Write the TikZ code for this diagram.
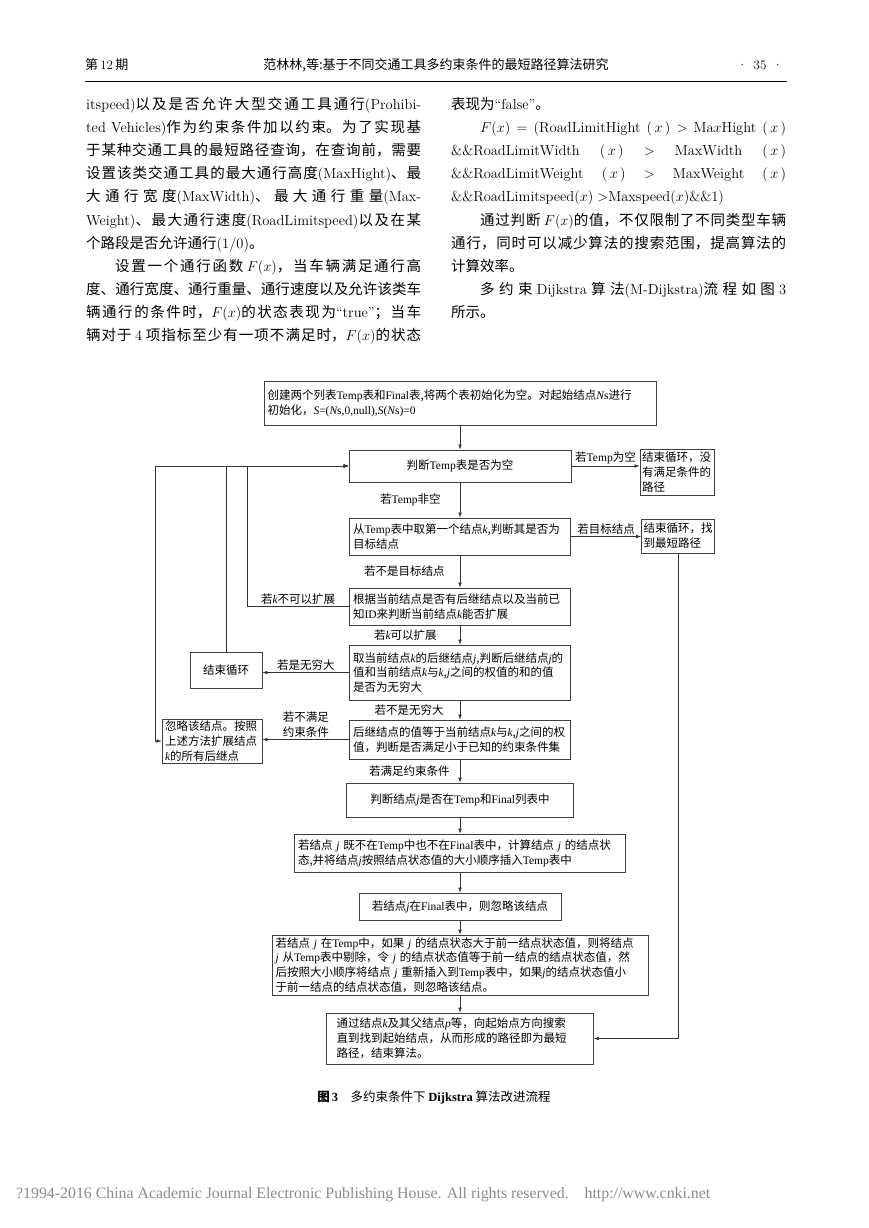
\documentclass[tikz,border=0pt]{standalone}
\usepackage[no-math]{fontspec}
\setmainfont{Noto Sans CJK SC}
\newfontfamily\tmfont{Liberation Serif}
\usepackage{graphicx}
\usetikzlibrary{arrows.meta}

% latin pieces
\newcommand\lmtext[1]{{\fontfamily{lmr}\selectfont #1}}
\newcommand\tmtext[1]{{\tmfont #1}}
\newcommand\tmit[1]{{\tmfont\itshape #1}}
% sizes
\newcommand\hdfont{\fontsize{13}{15}\selectfont}
\newcommand\bodyfont{\fontsize{14.5}{23.1}\selectfont}
\newcommand\fcfont{\fontsize{11.5}{14.8}\selectfont}
\newcommand\capfont{\fontsize{12.5}{14}\selectfont}
\newcommand\zhpar{\XeTeXlinebreaklocale "zh"\XeTeXlinebreakskip=0pt plus 8pt\relax
  \parindent=0pt\tolerance=10000\relax}

\begin{document}
\begin{tikzpicture}[x=1pt, y=-1pt,
    box/.style={
        draw=black!75,
        line width=0.8pt,
        inner xsep=3.5pt,
        inner ysep=0pt,
        align=left,
        font=\fcfont
    },
    lbl/.style={inner sep=1pt, align=center, font=\fcfont},
    arrow/.style={draw=black!80, line width=0.6pt, -{Latex[length=5pt,width=3.6pt]}},
    twoway/.style={draw=black!80, line width=0.6pt,
        {Latex[length=5pt,width=3.6pt]}-{Latex[length=5pt,width=3.6pt]}}
]
\useasboundingbox (0,0) rectangle (868,1228);
\fill[white] (0,0) rectangle (868,1228);

% running head
\node[anchor=base west, inner sep=0pt, font=\hdfont] (issue) at (85,70) {第\,\lmtext{12}\,期};
\node[anchor=base, inner sep=0pt, font=\hdfont] (title) at (436,70) {范林林,等:基于不同交通工具多约束条件的最短路径算法研究};
\node[anchor=base east, inner sep=0pt, font=\hdfont] (page) at (783,70) {\lmtext{·\enspace 35\enspace ·}};
\draw[line width=1pt] (85,82) -- (787,82);

% two columns of text
\node[anchor=base west, inner sep=0pt] (leftcol) at (86,109.5) {\begin{minipage}[t]{335pt}\bodyfont\zhpar\parfillskip=0pt
\lmtext{itspeed)}以及是否允许大型交通工具通行\lmtext{(Prohibi-}\linebreak
\lmtext{ted Vehicles)}作为约束条件加以约束。为了实现基\linebreak
于某种交通工具的最短路径查询，在查询前，需要\linebreak
设置该类交通工具的最大通行高度\lmtext{(MaxHight)}、最\linebreak
大通行宽度\lmtext{(MaxWidth)}、最大通行重量\lmtext{(Max-}\linebreak
\lmtext{Weight)}、最大通行速度\lmtext{(RoadLimitspeed)}以及在某\linebreak
个路段是否允许通行\lmtext{(1/0)}。\newline
\hspace*{2em}设置一个通行函数 $F(x)$，当车辆满足通行高\linebreak
度、通行宽度、通行重量、通行速度以及允许该类车\linebreak
辆通行的条件时，$F(x)$的状态表现为\lmtext{“true”}；当车\linebreak
辆对于 \lmtext{4} 项指标至少有一项不满足时，$F(x)$的状态
\end{minipage}};

\node[anchor=base west, inner sep=0pt] (rightcol) at (451,109.5) {\begin{minipage}[t]{335pt}\bodyfont\zhpar
表现为\lmtext{“false”}。\newline
\lmtext{\hspace*{2em}$F(x)=($RoadLimitHight $(\,x\,)$ $>$ Ma$x$Hight $(\,x\,)$}\linebreak
\lmtext{\&\&RoadLimitWidth $(\,x\,)$ $>$ MaxWidth $(\,x\,)$}\linebreak
\lmtext{\&\&RoadLimitWeight $(\,x\,)$ $>$ MaxWeight $(\,x\,)$}\linebreak
\lmtext{\&\&RoadLimitspeed$(x)>$Maxspeed$(x)$\&\&1)}\newline
\hspace*{2em}通过判断 $F(x)$的值，不仅限制了不同类型车辆\linebreak
通行，同时可以减少算法的搜索范围，提高算法的\linebreak
计算效率。\newline
\hspace*{2em}多约束 \lmtext{Dijkstra} 算法\lmtext{(M-Dijkstra)}流程如图 \lmtext{3}\linebreak
所示。
\end{minipage}};

% flow chart
\coordinate (bendK) at (247,466);
\coordinate (bendJ) at (155,466);

\node[box, text width=385pt, minimum height=44pt] (create) at (460,403)
    {创建两个列表\tmtext{Temp}表和\tmtext{Final}表,将两个表初始化为空。对起始结点\tmit{N}\tmtext{s}进行\\
     初始化，\tmit{S}\tmtext{=(}\tmit{N}\tmtext{s,0,null),}\tmit{S}\tmtext{(}\tmit{N}\tmtext{s)=0}};
\node[box, align=center, text width=215pt, minimum height=32pt] (judge) at (460,466) {判断\tmtext{Temp}表是否为空};
\node[box, inner xsep=2pt, text width=70pt, minimum height=46pt] (failend) at (677,472) {结束循环，没\\有满足条件的\\路径};
\node[box, text width=214pt, minimum height=37pt] (first) at (460,536.5)
    {从\tmtext{Temp}表中取第一个结点\tmit{k},判断其是否为\\目标结点};
\node[box, inner xsep=2pt, text width=69pt, minimum height=34pt] (found) at (678,536) {结束循环，找\\到最短路径};
\node[box, text width=214pt, minimum height=37pt] (expand) at (460,606.5)
    {根据当前结点是否有后继结点以及当前已\\知\tmtext{ID}来判断当前结点\tmit{k}能否扩展};
\node[box, text width=214pt, minimum height=55pt] (succ) at (460,672.5)
    {取当前结点\tmit{k}的后继结点\tmit{j},判断后继结点\tmit{j}的\\值和当前结点\tmit{k}与\tmit{k},\tmit{j}之间的权值的和的值\\是否为无穷大};
\node[box, align=center, text width=65pt, minimum height=36pt] (stop) at (226,670) {结束循环};
\node[box, text width=214pt, minimum height=39pt] (weight) at (460,739.5)
    {后继结点的值等于当前结点\tmit{k}与\tmit{k},\tmit{j}之间的权\\值，判断是否满足小于已知的约束条件集};
\node[box, inner xsep=3pt, text width=94pt, minimum height=44pt] (ignore) at (212,741)
    {忽略该结点。按照\\上述方法扩展结点\\\tmit{k}的所有后继点};
\node[box, align=center, text width=220pt, minimum height=34pt] (inlist) at (460,800)
    {判断结点\tmit{j}是否在\tmtext{Temp}和\tmtext{Final}列表中};
\node[box, text width=324pt, minimum height=38pt] (notin) at (460,853)
    {若结点~\tmit{j}~既不在\tmtext{Temp}中也不在\tmtext{Final}表中，计算结点~\tmit{j}~的结点状\\态,并将结点\tmit{j}按照结点状态值的大小顺序插入\tmtext{Temp}表中};
\node[box, align=center, text width=195pt, minimum height=27pt] (infinal) at (460,906.5)
    {若结点\tmit{j}在\tmtext{Final}表中，则忽略该结点};
\node[box, text width=369pt, minimum height=60pt] (intemp) at (460,965)
    {若结点~\tmit{j}~在\tmtext{Temp}中，如果~\tmit{j}~的结点状态大于前一结点状态值，则将结点\\
     \tmit{j}~从\tmtext{Temp}表中剔除，令~\tmit{j}~的结点状态值等于前一结点的结点状态值，然\\
     后按照大小顺序将结点~\tmit{j}~重新插入到\tmtext{Temp}表中，如果\tmit{j}的结点状态值小\\
     于前一结点的结点状态值，则忽略该结点。};
\node[box, inner xsep=10pt, text width=247pt, minimum height=51pt] (trace) at (460,1038.5)
    {通过结点\tmit{k}及其父结点\tmit{p}等，向起始点方向搜索\\直到找到起始结点，从而形成的路径即为最短\\路径，结束算法。};

\draw[arrow] (create) -- (judge);
\draw[arrow] (judge) -- (judge -| failend.west) node[lbl, midway, above=1pt] {若\tmtext{Temp}为空};
\draw[arrow] (judge) -- (first) node[lbl, midway, left=18pt] {若\tmtext{Temp}非空};
\draw[arrow] (first) -- (first -| found.west) node[lbl, midway, above=1pt] {若目标结点};
\draw[arrow] (found) |- (trace);
\draw[arrow] (first) -- (expand) node[lbl, midway, left=14pt] {若不是目标结点};
\draw[arrow] (expand) -| (bendK) node[lbl, pos=0.25, above=1pt] {若\tmit{k}不可以扩展} -- (judge);
\draw[arrow] (expand) -- (succ) node[lbl, midway, left=22pt] {若\tmit{k}可以扩展};
\draw[arrow] (succ) -- (succ -| stop.east) node[lbl, midway, above=1pt] {若是无穷大};
\draw[arrow] (stop) -- (stop |- judge) -- (judge);
\draw[arrow] (succ) -- (weight) node[lbl, midway, left=15pt] {若不是无穷大};
\draw[arrow] (weight) -- (weight -| ignore.east) node[lbl, midway, above=1pt] {若不满足\\约束条件};
\draw[twoway] (ignore) -| (bendJ) -- (judge);
\draw[arrow] (weight) -- (inlist) node[lbl, midway, left=9pt] {若满足约束条件};
\draw[arrow] (inlist) -- (notin);
\draw[arrow] (notin) -- (infinal);
\draw[arrow] (infinal) -- (intemp);
\draw[arrow] (intemp) -- (trace);

% caption and foot line
\node[anchor=base, inner sep=0pt, font=\capfont] (caption) at (434,1101)
    {{\bfseries 图\,\tmtext{3}}\quad 多约束条件下 \tmtext{\bfseries Dijkstra} 算法改进流程};
\node[anchor=base west, inner sep=0pt, text=black!45] (footer) at (16,1198)
    {\resizebox{694pt}{!}{\tmfont ?1994-2016 China Academic Journal Electronic Publishing House. All rights reserved.\quad http://www.cnki.net}};
\end{tikzpicture}
\end{document}
